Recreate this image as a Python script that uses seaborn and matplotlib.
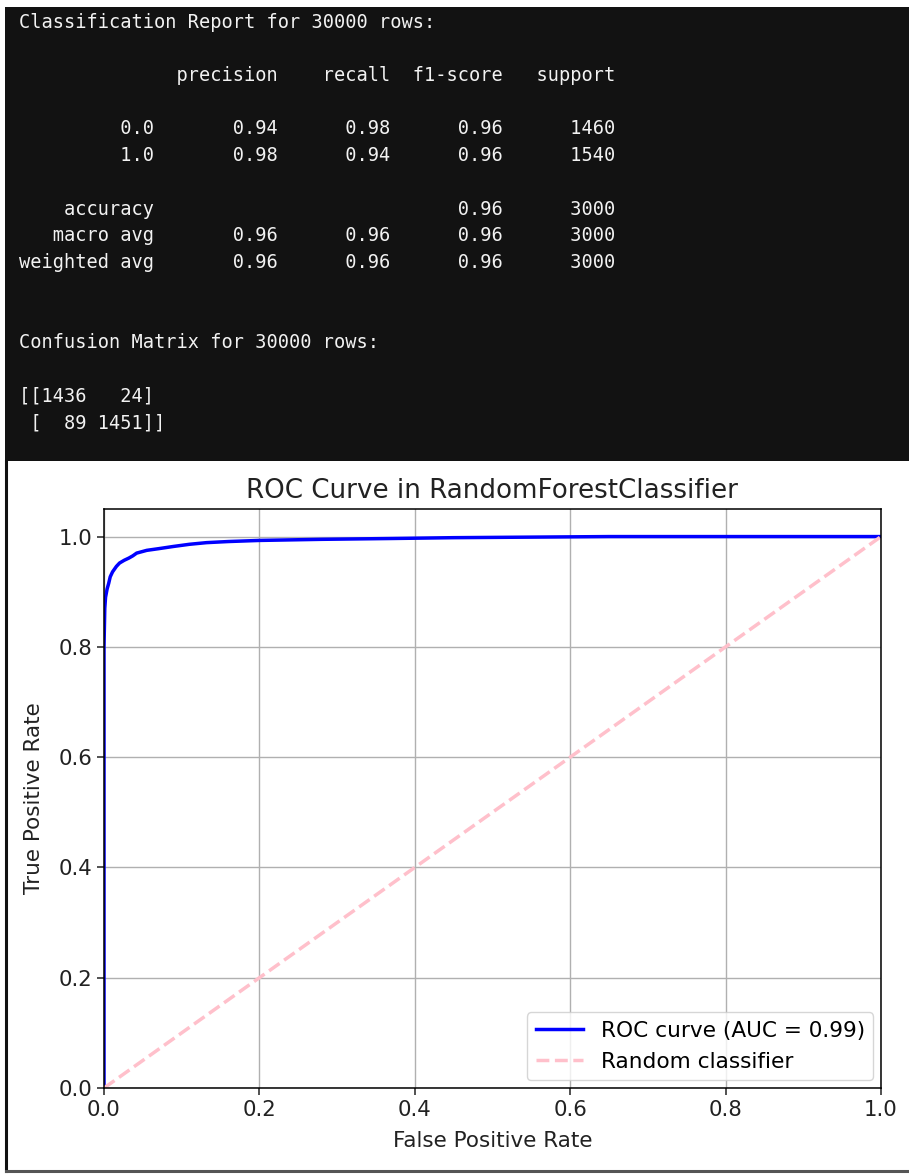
import numpy as np
import pandas as pd
import matplotlib
matplotlib.use("Agg")
import matplotlib.pyplot as plt
import seaborn as sns
from matplotlib.patches import Rectangle
from matplotlib.lines import Line2D

# ---------------- data ----------------
n_rows = 30000
class_labels = ["0.0", "1.0"]
precision = [0.94, 0.98]
recall = [0.98, 0.94]
f1_score = [0.96, 0.96]
support = [1460, 1540]
accuracy = 0.96
macro_avg = [0.96, 0.96, 0.96]
weighted_avg = [0.96, 0.96, 0.96]
total_support = 3000
conf_matrix = [[1436, 24], [89, 1451]]

fpr = [0.0, 0.0, 0.0, 0.001, 0.002, 0.004, 0.006, 0.008, 0.011, 0.016, 0.020,
       0.026, 0.032, 0.037, 0.042, 0.055, 0.070, 0.089, 0.110, 0.132, 0.160,
       0.200, 0.280, 0.370, 0.450, 0.550, 0.650, 0.800, 1.0]
tpr = [0.0, 0.60, 0.80, 0.870, 0.890, 0.905, 0.915, 0.927, 0.936, 0.946, 0.952,
       0.957, 0.961, 0.965, 0.970, 0.975, 0.978, 0.982, 0.986, 0.989, 0.991,
       0.993, 0.995, 0.9965, 0.998, 0.999, 1.0, 1.0, 1.0]
roc_auc = 0.99
diag = [0.0, 1.0]

# ---------------- figure ----------------
W, H = 909, 1174
fig = plt.figure(figsize=(W / 100, H / 100), dpi=100)
fig.patch.set_facecolor("white")

# background canvas in pixel coords
bg = fig.add_axes([0, 0, 1, 1], zorder=0)
bg.set_xlim(0, W)
bg.set_ylim(H, 0)
bg.axis("off")
bg.add_patch(Rectangle((5, 7), W - 5, 454, facecolor="#121212", edgecolor="none"))
bg.add_line(Line2D([6, 6], [461, 1171], color="#111111", lw=2.2))
bg.add_line(Line2D([6, W], [1171, 1171], color="#555555", lw=2.2))

# terminal text
report_lines = []
report_lines.append(f"Classification Report for {n_rows} rows:")
report_lines.append("")
report_lines.append(f"{'':12s}{'precision':>11s}{'recall':>10s}{'f1-score':>10s}{'support':>10s}")
report_lines.append("")
for lab, p, r, f, s in zip(class_labels, precision, recall, f1_score, support):
    report_lines.append(f"{lab:>12s}{p:>11.2f}{r:>10.2f}{f:>10.2f}{s:>10d}")
report_lines.append("")
report_lines.append(f"{'accuracy':>12s}{'':>11s}{'':>10s}{accuracy:>10.2f}{total_support:>10d}")
report_lines.append(f"{'macro avg':>12s}{macro_avg[0]:>11.2f}{macro_avg[1]:>10.2f}{macro_avg[2]:>10.2f}{total_support:>10d}")
report_lines.append(f"{'weighted avg':>12s}{weighted_avg[0]:>11.2f}{weighted_avg[1]:>10.2f}{weighted_avg[2]:>10.2f}{total_support:>10d}")
report_lines.append("")
report_lines.append("")
report_lines.append(f"Confusion Matrix for {n_rows} rows:")
report_lines.append("")
cm = np.array(conf_matrix)
for ln in str(cm).split("\n"):
    report_lines.append(ln)

for i, ln in enumerate(report_lines):
    if ln:
        bg.text(19, 22 + i * 26.72, ln, family="DejaVu Sans Mono", fontsize=13.4,
                color="#f2f2f2", va="center", ha="left")

# ---------------- ROC chart ----------------
ax = fig.add_axes([104 / W, 86 / H, 777 / W, 579 / H], zorder=2)
df = pd.DataFrame({"fpr": fpr, "tpr": tpr})
sns.lineplot(data=df, x="fpr", y="tpr", ax=ax, color="blue", lw=2.5, sort=False,
             estimator=None, label=f"ROC curve (AUC = {roc_auc:.2f})")
sns.lineplot(x=diag, y=diag, ax=ax, color="pink", lw=2.5, linestyle=(0, (3.7, 1.6)),
             label="Random classifier")
ax.set_xlim(0, 1)
ax.set_ylim(0, 1.05)
ax.set_xticks([0, 0.2, 0.4, 0.6, 0.8, 1.0])
ax.set_yticks([0, 0.2, 0.4, 0.6, 0.8, 1.0])
ax.grid(True, color="#b0b0b0", lw=1.0)
ax.set_axisbelow(True)
for s in ax.spines.values():
    s.set_color("black")
    s.set_linewidth(1.1)
ax.tick_params(labelsize=15.3, length=5, width=1.1, colors="#222222", labelcolor="#222222")
ax.set_xlabel("False Positive Rate", fontsize=15.5, color="#222222", labelpad=8)
ax.set_ylabel("True Positive Rate", fontsize=15.5, color="#222222", labelpad=10)
ax.set_title("ROC Curve in RandomForestClassifier", fontsize=18.8, color="#222222", pad=8)
leg = ax.legend(loc="lower right", fontsize=15.6, frameon=True, handlelength=2.2,
                borderaxespad=0.35)
leg.get_frame().set_edgecolor("#cccccc")

fig.savefig("out.png", dpi=100, facecolor="white")
